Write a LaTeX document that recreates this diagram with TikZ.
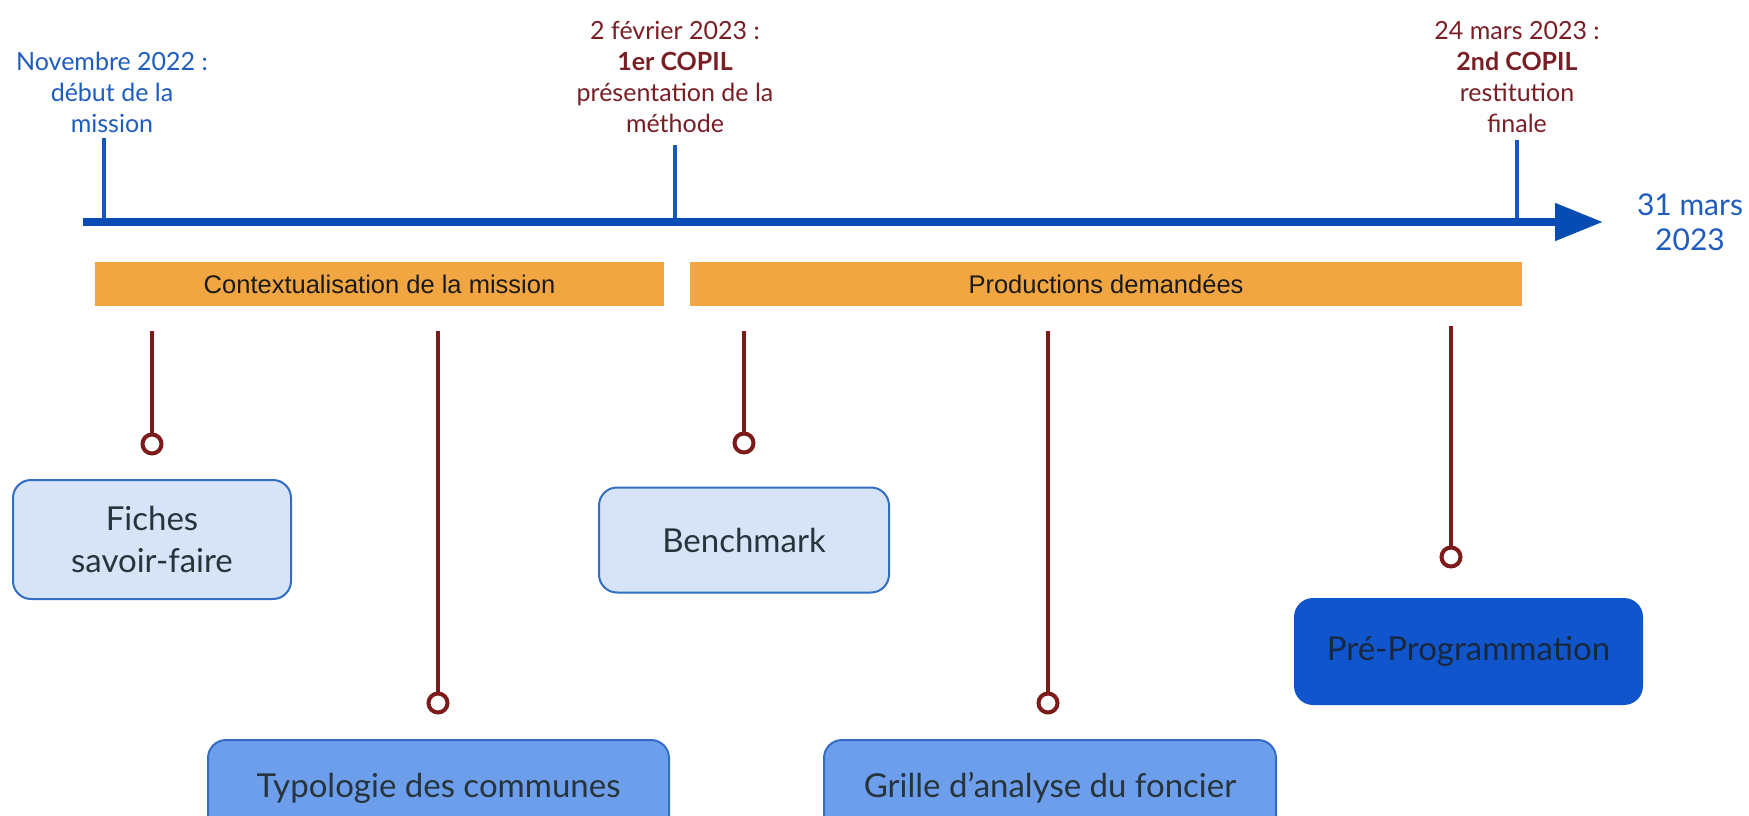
\documentclass[tikz,border=0pt]{standalone}
\usepackage{fontspec}
\setmainfont{Lato}
\newfontfamily\arialf{Liberation Sans}
\usetikzlibrary{arrows.meta}
\definecolor{tlblue}{RGB}{6,76,178}
\definecolor{tickblue}{RGB}{22,88,192}
\definecolor{txtblue}{RGB}{31,92,191}
\definecolor{maroon}{RGB}{122,30,38}
\definecolor{stemc}{RGB}{125,27,27}
\definecolor{barorange}{RGB}{242,166,65}
\definecolor{bartext}{RGB}{26,26,26}
\definecolor{lightfill}{RGB}{215,228,247}
\definecolor{midfill}{RGB}{109,158,235}
\definecolor{darkfill}{RGB}{17,85,204}
\definecolor{boxborder}{RGB}{51,110,196}
\definecolor{boxtext}{RGB}{40,52,60}
\definecolor{darktext}{RGB}{25,40,62}
\begin{document}
\begin{tikzpicture}[x=1pt,y=-1pt,
  toplabel/.style={align=center, inner sep=0pt, font=\fontsize{25}{31}\selectfont},
  barbox/.style={fill=barorange, inner sep=0pt, minimum height=44pt, text=bartext, font=\arialf\fontsize{25.5}{30}\selectfont},
  itembox/.style={rounded corners=18pt, line width=2pt, align=center, inner sep=0pt, font=\fontsize{33}{42}\selectfont, text=boxtext},
  lightbox/.style={itembox, draw=boxborder, fill=lightfill},
  midbox/.style={itembox, draw=boxborder, fill=midfill},
  darkbox/.style={itembox, draw=darkfill, fill=darkfill, text=darktext},
  stemline/.style={draw=stemc, line width=4pt},
  dot/.style={circle, draw=stemc, line width=4pt, fill=white, minimum size=19pt, inner sep=0pt},
  tickline/.style={draw=tickblue, line width=3.5pt}
]
\useasboundingbox (0,0) rectangle (1749,816);
\clip (0,0) rectangle (1749,816);
\fill[white] (0,0) rectangle (1749,816);

% timeline
\coordinate (tlstart) at (83,222);
\coordinate (tlend) at (1603,222);
\coordinate (t1) at (104,138);
\coordinate (t2) at (675,145);
\coordinate (t3) at (1517,140);
\draw[tickline] (t1) -- (t1 |- tlstart);
\draw[tickline] (t2) -- (t2 |- tlstart);
\draw[tickline] (t3) -- (t3 |- tlstart);
\draw[line width=8pt, tlblue, -{Triangle[length=48pt,width=36pt]}] (tlstart) -- (tlend);

% top labels
\node[toplabel, text=txtblue] (lnov) at (112,92) {Novembre 2022 :\\début de la\\mission};
\node[toplabel, text=maroon] (lfev) at (675,77) {2 février 2023 :\\\textbf{1er COPIL}\\présentation de la\\méthode};
\node[toplabel, text=maroon] (lmar) at (1517,77) {24 mars 2023 :\\\textbf{2nd COPIL}\\restitution\\finale};
\node[align=center, inner sep=0pt, text=txtblue, font=\fontsize{30}{35}\selectfont] (lend) at (1690,222) {31 mars\\2023};

% orange bars
\node[barbox, minimum width=569pt] (bar1) at (379.5,284) {Contextualisation de la mission};
\node[barbox, minimum width=832pt] (bar2) at (1106,284) {Productions demandées};

% boxes
\node[lightbox, minimum width=278pt, minimum height=119pt] (fiches) at (152,539.5) {Fiches\\savoir-faire};
\node[lightbox, minimum width=290pt, minimum height=105pt] (bench) at (744,540) {Benchmark};
\node[midbox, minimum width=461pt, minimum height=96pt] (typo) at (438.5,788) {Typologie des communes};
\node[midbox, minimum width=452pt, minimum height=96pt] (grille) at (1050,788) {Grille d’analyse du foncier};
\node[darkbox, minimum width=347pt, minimum height=105pt] (prepro) at (1468.5,651.5) {Pré-Programmation};

% stems
\coordinate (s1) at (152,331);
\coordinate (s2) at (438,331);
\coordinate (s3) at (744,331);
\coordinate (s4) at (1048,331);
\coordinate (s5) at (1451,326);
\node[dot] (c1) at (152,444) {};
\node[dot] (c2) at (438,703) {};
\node[dot] (c3) at (744,443) {};
\node[dot] (c4) at (1048,703) {};
\node[dot] (c5) at (1451,557) {};
\draw[stemline] (s1) -- (c1.north);
\draw[stemline] (s2) -- (c2.north);
\draw[stemline] (s3) -- (c3.north);
\draw[stemline] (s4) -- (c4.north);
\draw[stemline] (s5) -- (c5.north);
\end{tikzpicture}
\end{document}
